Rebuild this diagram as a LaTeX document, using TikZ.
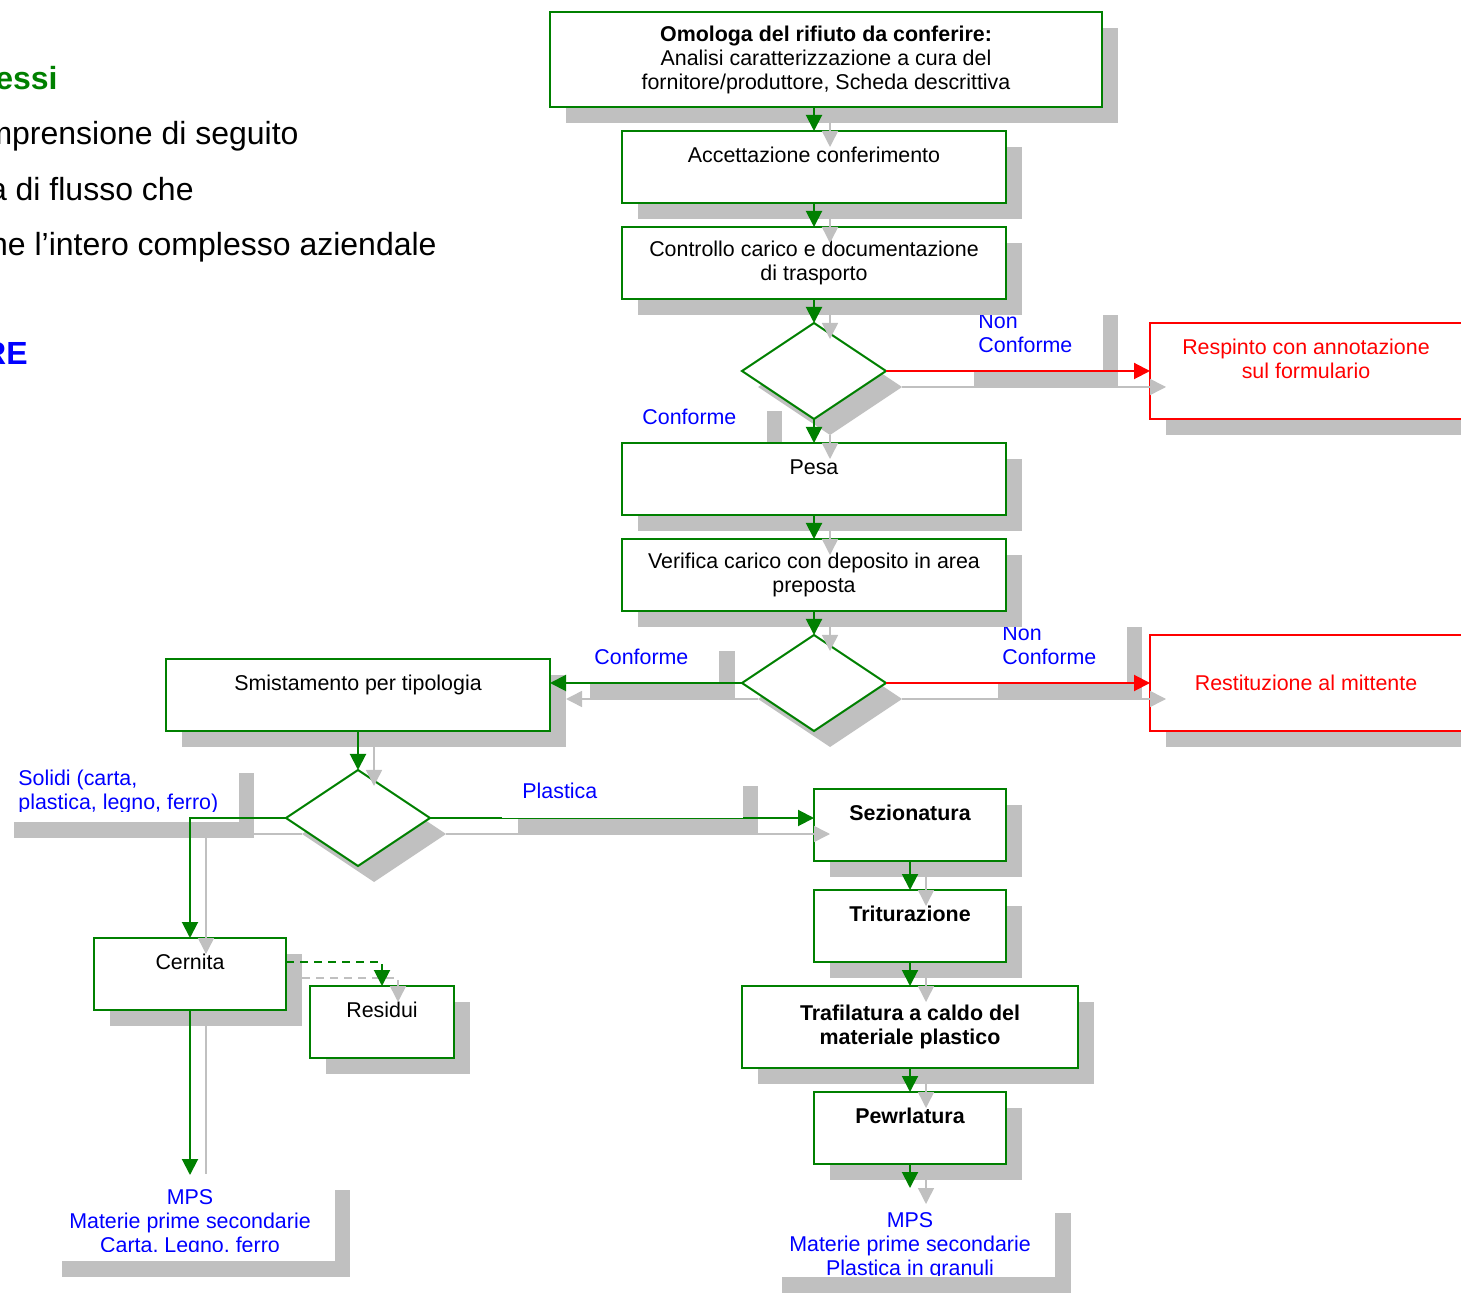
\documentclass[tikz,border=0pt]{standalone}
\usepackage{fontspec}
\setmainfont{Liberation Sans}
\usetikzlibrary{arrows.meta,calc,positioning,shapes.geometric,shadows}

\definecolor{flowgreen}{RGB}{0,128,0}
\definecolor{flowblue}{RGB}{0,0,255}
\definecolor{flowred}{RGB}{255,0,0}
\definecolor{shadowgray}{RGB}{192,192,192}

\newcommand{\boxfnt}{\fontsize{10.7}{12}\selectfont}
\newcommand{\slidefnt}{\fontsize{16}{19}\selectfont}

\begin{document}
\begin{tikzpicture}[x=0.5pt, y=-0.5pt]
  % --- Styles (all boxes with the same grey drop shadow) ---
    \tikzset{
      proc/.style     = {rectangle,draw=flowgreen,line width=1pt,fill=white,align=center,
                         inner sep=0pt,outer sep=0pt,minimum width=192pt,minimum height=36pt,
                         font=\boxfnt,
                         drop shadow={shadow xshift=8pt,shadow yshift=-8pt,fill=shadowgray,opacity=1}},
      procbold/.style = {proc,font=\boxfnt\bfseries},
      rejbox/.style   = {proc,draw=flowred,text=flowred,minimum width=156pt,minimum height=48pt},
      decision/.style = {diamond,draw=flowgreen,line width=1pt,fill=white,inner sep=0pt,outer sep=0pt,
                         minimum width=72pt,minimum height=48pt,
                         drop shadow={shadow xshift=8pt,shadow yshift=-8pt,fill=shadowgray,opacity=1}},
      flow/.style     = {-{Triangle[length=8pt,width=8pt]},color=flowgreen,line width=1pt},  % green arrows
      reject/.style   = {flow,color=flowred},                                                 % red arrows
      shflow/.style   = {-{Triangle[length=8pt,width=8pt]},color=shadowgray,line width=0.75pt}, % shadow arrows
      lbl/.style      = {text=flowblue,font=\boxfnt,align=left,inner sep=0pt},
      lblshade/.style = {fill=shadowgray},
      slidetxt/.style = {font=\slidefnt,inner sep=0pt}
    }

    \useasboundingbox (0,0) rectangle (1461,1293);

    % --- Slide text behind the chart (cut at the left edge) ---
    \node[slidetxt,text=flowgreen,font=\slidefnt\bfseries,anchor=base east] (titolo) at (58,90) {essi};
    \node[slidetxt,anchor=base east] (riga1) at (299,145) {mprensione di seguito};
    \node[slidetxt,anchor=base east] (riga2) at (194,201) {a di flusso che};
    \node[slidetxt,anchor=base east] (riga3) at (437,256) {ne l’intero complesso aziendale};
    \node[slidetxt,text=flowblue,font=\slidefnt\bfseries,anchor=base east] (sezione) at (28,365) {RE};

    % --- Label text boxes: shadow, white box, text ---
    \fill[lblshade] (974,315) rectangle (1118,387);
    \fill[white] (958,299) rectangle (1103,371);
    \node[lbl,anchor=north west] (nc1) at (978,313) {Non\\Conforme};

    \fill[lblshade] (782,411) rectangle (767,459);
    \fill[lblshade] (642,427) rectangle (782,459);
    \fill[white] (626,395) rectangle (767,443);
    \node[lbl,anchor=north west] (conf1) at (642,409) {Conforme};

    \fill[lblshade] (590,651) rectangle (735,699);
    \fill[white] (574,635) rectangle (719,683);
    \node[lbl,anchor=north west] (conf2) at (594,649) {Conforme};

    \fill[lblshade] (998,627) rectangle (1142,699);
    \fill[white] (982,611) rectangle (1127,683);
    \node[lbl,anchor=north west] (nc2) at (1002,625) {Non\\Conforme};

    \fill[lblshade] (14,773) rectangle (254,838);
    \fill[white] (-2,757) rectangle (239,822);
    \begin{scope}
      \clip (0,757) rectangle (239,811);
      \node[lbl,anchor=north west] (solidi) at (18,770) {Solidi (carta,\\plastica, legno, ferro)};
    \end{scope}

    \fill[lblshade] (518,786) rectangle (758,834);

    \fill[lblshade] (782,1213) rectangle (1071,1293);
    \fill[white] (766,1197) rectangle (1055,1277);
    \begin{scope}
      \clip (766,1197) rectangle (1055,1275);
      \node[lbl,align=center,anchor=north] (mpsR) at (910,1212) {MPS\\Materie prime secondarie\\Plastica in granuli};
    \end{scope}

    % --- Process boxes and decisions ---
    \node[proc,minimum width=276pt,minimum height=47.5pt] (omol) at (826,59.5)
      {\textbf{Omologa del rifiuto da conferire:}\\Analisi caratterizzazione a cura del\\fornitore/produttore, Scheda descrittiva};
    \node[proc] (acc) at (814,167) {Accettazione conferimento\\~};
    \node[proc,below=12pt of acc] (ctrl) {Controllo carico e documentazione\\di trasporto};
    \node[decision,below=12pt of ctrl] (dec1) {};
    \node[rejbox] (resp) at (1306,371) {Respinto con annotazione\\sul formulario\\~};
    \node[proc,below=12pt of dec1] (pesa) {Pesa\\~};
    \node[proc,below=12pt of pesa] (verif) {Verifica carico con deposito in area\\preposta};
    \node[decision,below=12pt of verif] (dec2) {};
    \node[rejbox] (rest) at (1306,683) {Restituzione al mittente};
    \node[proc] (smist) at (358,695) {Smistamento per tipologia\\~};
    \node[decision] (dec3) at (358,818) {};

    \node[procbold,minimum width=96pt] (sez) at (910,825) {Sezionatura\\~};
    \node[procbold,minimum width=96pt] (trit) at (910,926) {Triturazione\\~};
    \node[procbold,minimum width=168pt,minimum height=41pt] (traf) at (910,1027) {Trafilatura a caldo del\\materiale plastico};
    \node[procbold,minimum width=96pt] (pewr) at (910,1128) {Pewrlatura\\~};

    \node[proc,minimum width=96pt] (cern) at (190,974) {Cernita\\~};
    \node[proc,minimum width=72pt] (resid) at (382,1022) {Residui\\~};

    \coordinate (mpsLtop) at (190,1175);
    \coordinate (mpsRtop) at (910,1188);

    % --- Shadows of the connectors ---
    \begin{scope}[transform canvas={shift={(8pt,-8pt)}}]
      \draw[shflow] (omol.south -| acc.north) -- (acc.north);
      \draw[shflow] (acc) -- (ctrl);
      \draw[shflow] (ctrl) -- (dec1);
      \draw[shflow] (dec1) -- (pesa);
      \draw[shflow] (pesa) -- (verif);
      \draw[shflow] (verif) -- (dec2);
      \draw[shflow] (dec1) -- (resp);
      \draw[shflow] (dec2) -- (rest);
      \draw[shflow] (dec2.west) -- (dec2.west -| smist.east);
      \draw[shflow] (smist) -- (dec3);
      \draw[shflow] (dec3.west) -| (cern.north);
      \draw[shflow] (dec3.east) -- (dec3.east -| sez.west);
      \draw[shflow] (sez) -- (trit);
      \draw[shflow] (trit) -- (traf);
      \draw[shflow] (traf) -- (pewr);
      \draw[shflow] (pewr.south) -- (mpsRtop);
      \draw[shflow] (cern.south) -- (mpsLtop);
      \draw[shflow,dash pattern=on 4pt off 3pt] ([yshift=6pt]cern.east) -| (resid.north);
    \end{scope}

    % --- Left MPS text box (hides the shadow arrow) ---
    \fill[lblshade] (62,1190) rectangle (350,1277);
    \fill[white] (46,1174) rectangle (335,1261);
    \begin{scope}
      \clip (46,1174) rectangle (335,1251);
      \node[lbl,align=center,anchor=north] (mpsL) at (190,1189) {MPS\\Materie prime secondarie\\Carta, Legno, ferro};
    \end{scope}

    % --- Connectors ---
    \draw[flow] (omol.south -| acc.north) -- (acc.north);
    \draw[flow] (acc) -- (ctrl);
    \draw[flow] (ctrl) -- (dec1);
    \draw[flow] (dec1) -- (pesa);
    \draw[flow] (pesa) -- (verif);
    \draw[flow] (verif) -- (dec2);
    \draw[reject] (dec1) -- (resp);
    \draw[reject] (dec2) -- (rest);
    \draw[flow] (dec2.west) -- (dec2.west -| smist.east);
    \draw[flow] (smist) -- (dec3);
    \draw[flow] (dec3.west) -| (cern.north);
    \draw[flow] (dec3.east) -- (dec3.east -| sez.west);
    \draw[flow] (sez) -- (trit);
    \draw[flow] (trit) -- (traf);
    \draw[flow] (traf) -- (pewr);
    \draw[flow] (pewr.south) -- (mpsRtop);
    \draw[flow] (cern.south) -- (mpsLtop);
    \draw[flow,dash pattern=on 4pt off 3pt] ([yshift=6pt]cern.east) -| (resid.north);

    % --- "Plastica" text box lies over the line ---
    \fill[white] (502,770) rectangle (743,818);
    \node[lbl,anchor=north west] (plast) at (522,783) {Plastica};

\end{tikzpicture}
\end{document}
